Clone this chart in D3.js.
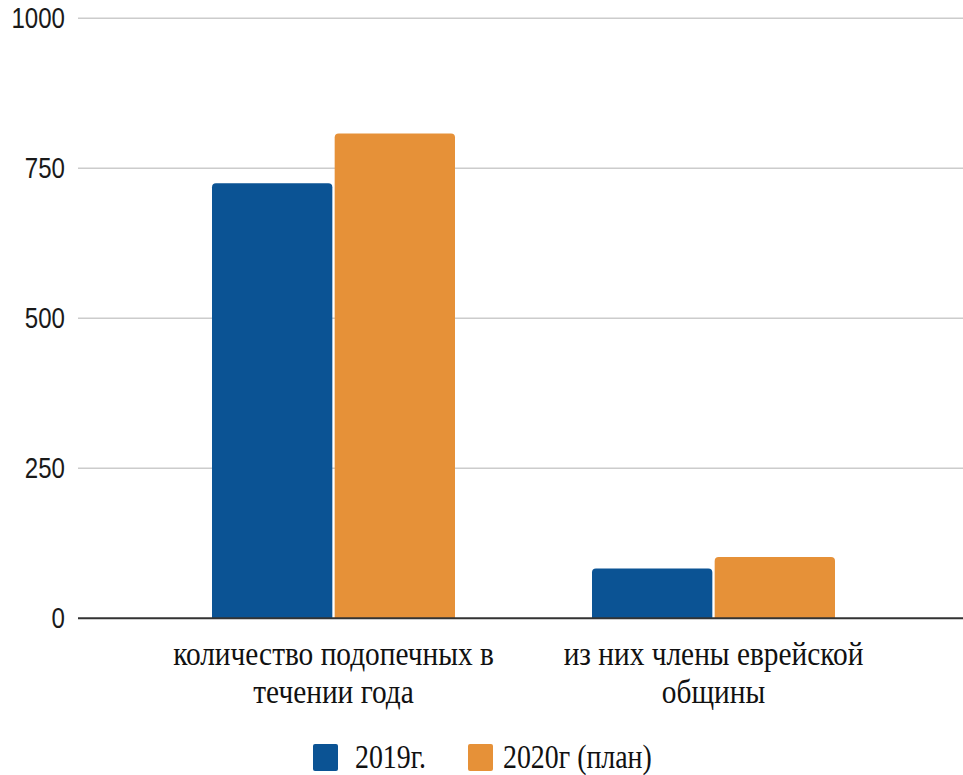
<!DOCTYPE html>
<html>
<head>
<meta charset="utf-8">
<script src="https://cdn.jsdelivr.net/npm/d3@7"></script>
<style>
  body { margin: 0; background: #fff; }
  svg { display: block; }
</style>
</head>
<body>
<svg id="chart"></svg>
<script>
// chart data
var categories = [["количество подопечных в", "течении года"], ["из них члены еврейской", "общины"]];
var seriesNames = ["2019г.", "2020г (план)"];
var values2019 = [725, 83];
var values2020 = [808, 102];
var yTicks = [0, 250, 500, 750, 1000];
var colors = ["#0b5394", "#e69138"];

var width = 963, height = 775;
var svg = d3.select("#chart").attr("width", width).attr("height", height);

var y = d3.scaleLinear().domain([0, 1000]).range([618.3, 18.3]);

var catIdx = d3.range(categories.length);
var x0 = d3.scaleBand().domain(catIdx).range([143.5, 903.5]);
var x1 = d3.scaleBand().domain([0, 1]).range([-121.5, 121.5]).paddingInner(0.019);

// gridlines
svg.append("g")
    .selectAll("line")
    .data(yTicks.filter(function(d) { return d > 0; }))
    .enter()
    .append("line")
    .attr("x1", 78).attr("x2", width)
    .attr("y1", function(d) { return y(d); })
    .attr("y2", function(d) { return y(d); })
    .attr("stroke", "#cccccc")
    .attr("stroke-width", 1.6);

// y labels (the picture is squeezed sideways, so text gets a scaleX)
svg.append("g")
    .selectAll("text")
    .data(yTicks)
    .enter()
    .append("text")
    .attr("transform", function(d) { return "translate(65," + y(d) + ") scale(0.83,1)"; })
    .attr("dy", "0.35em")
    .attr("text-anchor", "end")
    .style("font-family", "Liberation Sans")
    .style("font-size", "29px")
    .attr("fill", "#1a1a1a")
    .text(function(d) { return d; });

// bars
var data = [];
catIdx.forEach(function(i) {
    data.push({ cat: i, s: 0, value: values2019[i] });
    data.push({ cat: i, s: 1, value: values2020[i] });
});

function topRounded(x, yTop, w, h, r) {
    r = Math.min(r, h);
    return "M" + x + "," + (yTop + h) +
        "V" + (yTop + r) +
        "Q" + x + "," + yTop + " " + (x + r) + "," + yTop +
        "H" + (x + w - r) +
        "Q" + (x + w) + "," + yTop + " " + (x + w) + "," + (yTop + r) +
        "V" + (yTop + h) + "Z";
}

svg.append("g")
    .selectAll("path")
    .data(data)
    .enter()
    .append("path")
    .attr("d", function(d) {
        var cx = x0(d.cat) + x0.bandwidth() / 2;
        var bx = cx + x1(d.s);
        return topRounded(bx, y(d.value), x1.bandwidth(), y(0) - y(d.value), 4);
    })
    .attr("fill", function(d) { return colors[d.s]; });

// baseline
svg.append("line")
    .attr("x1", 78).attr("x2", width)
    .attr("y1", y(0)).attr("y2", y(0))
    .attr("stroke", "#333333")
    .attr("stroke-width", 2);

// category labels
var lines = [];
catIdx.forEach(function(i) {
    categories[i].forEach(function(t, k) {
        lines.push({ i: i, k: k, t: t });
    });
});

svg.append("g")
    .selectAll("text")
    .data(lines)
    .enter()
    .append("text")
    .attr("transform", function(d) {
        return "translate(" + (x0(d.i) + x0.bandwidth() / 2) + "," + (665 + d.k * 38) + ") scale(0.89,1)";
    })
    .attr("text-anchor", "middle")
    .style("font-family", "'Liberation Serif', serif")
    .style("font-size", "33px")
    .attr("fill", "#111")
    .text(function(d) { return d.t; });

// legend
var swatchX = [313, 468];
var labelX = [355, 503];
var legend = svg.append("g");
legend.selectAll("rect")
    .data(seriesNames)
    .enter()
    .append("rect")
    .attr("x", function(d, i) { return swatchX[i]; })
    .attr("y", 744)
    .attr("width", 25)
    .attr("height", 27)
    .attr("rx", 2)
    .attr("fill", function(d, i) { return colors[i]; });

legend.selectAll("text")
    .data(seriesNames)
    .enter()
    .append("text")
    .attr("transform", function(d, i) { return "translate(" + labelX[i] + ",768) scale(0.82,1)"; })
    .style("font-family", "'Liberation Serif', serif")
    .style("font-size", "34px")
    .attr("fill", "#111")
    .text(function(d) { return d; });
</script>
</body>
</html>
